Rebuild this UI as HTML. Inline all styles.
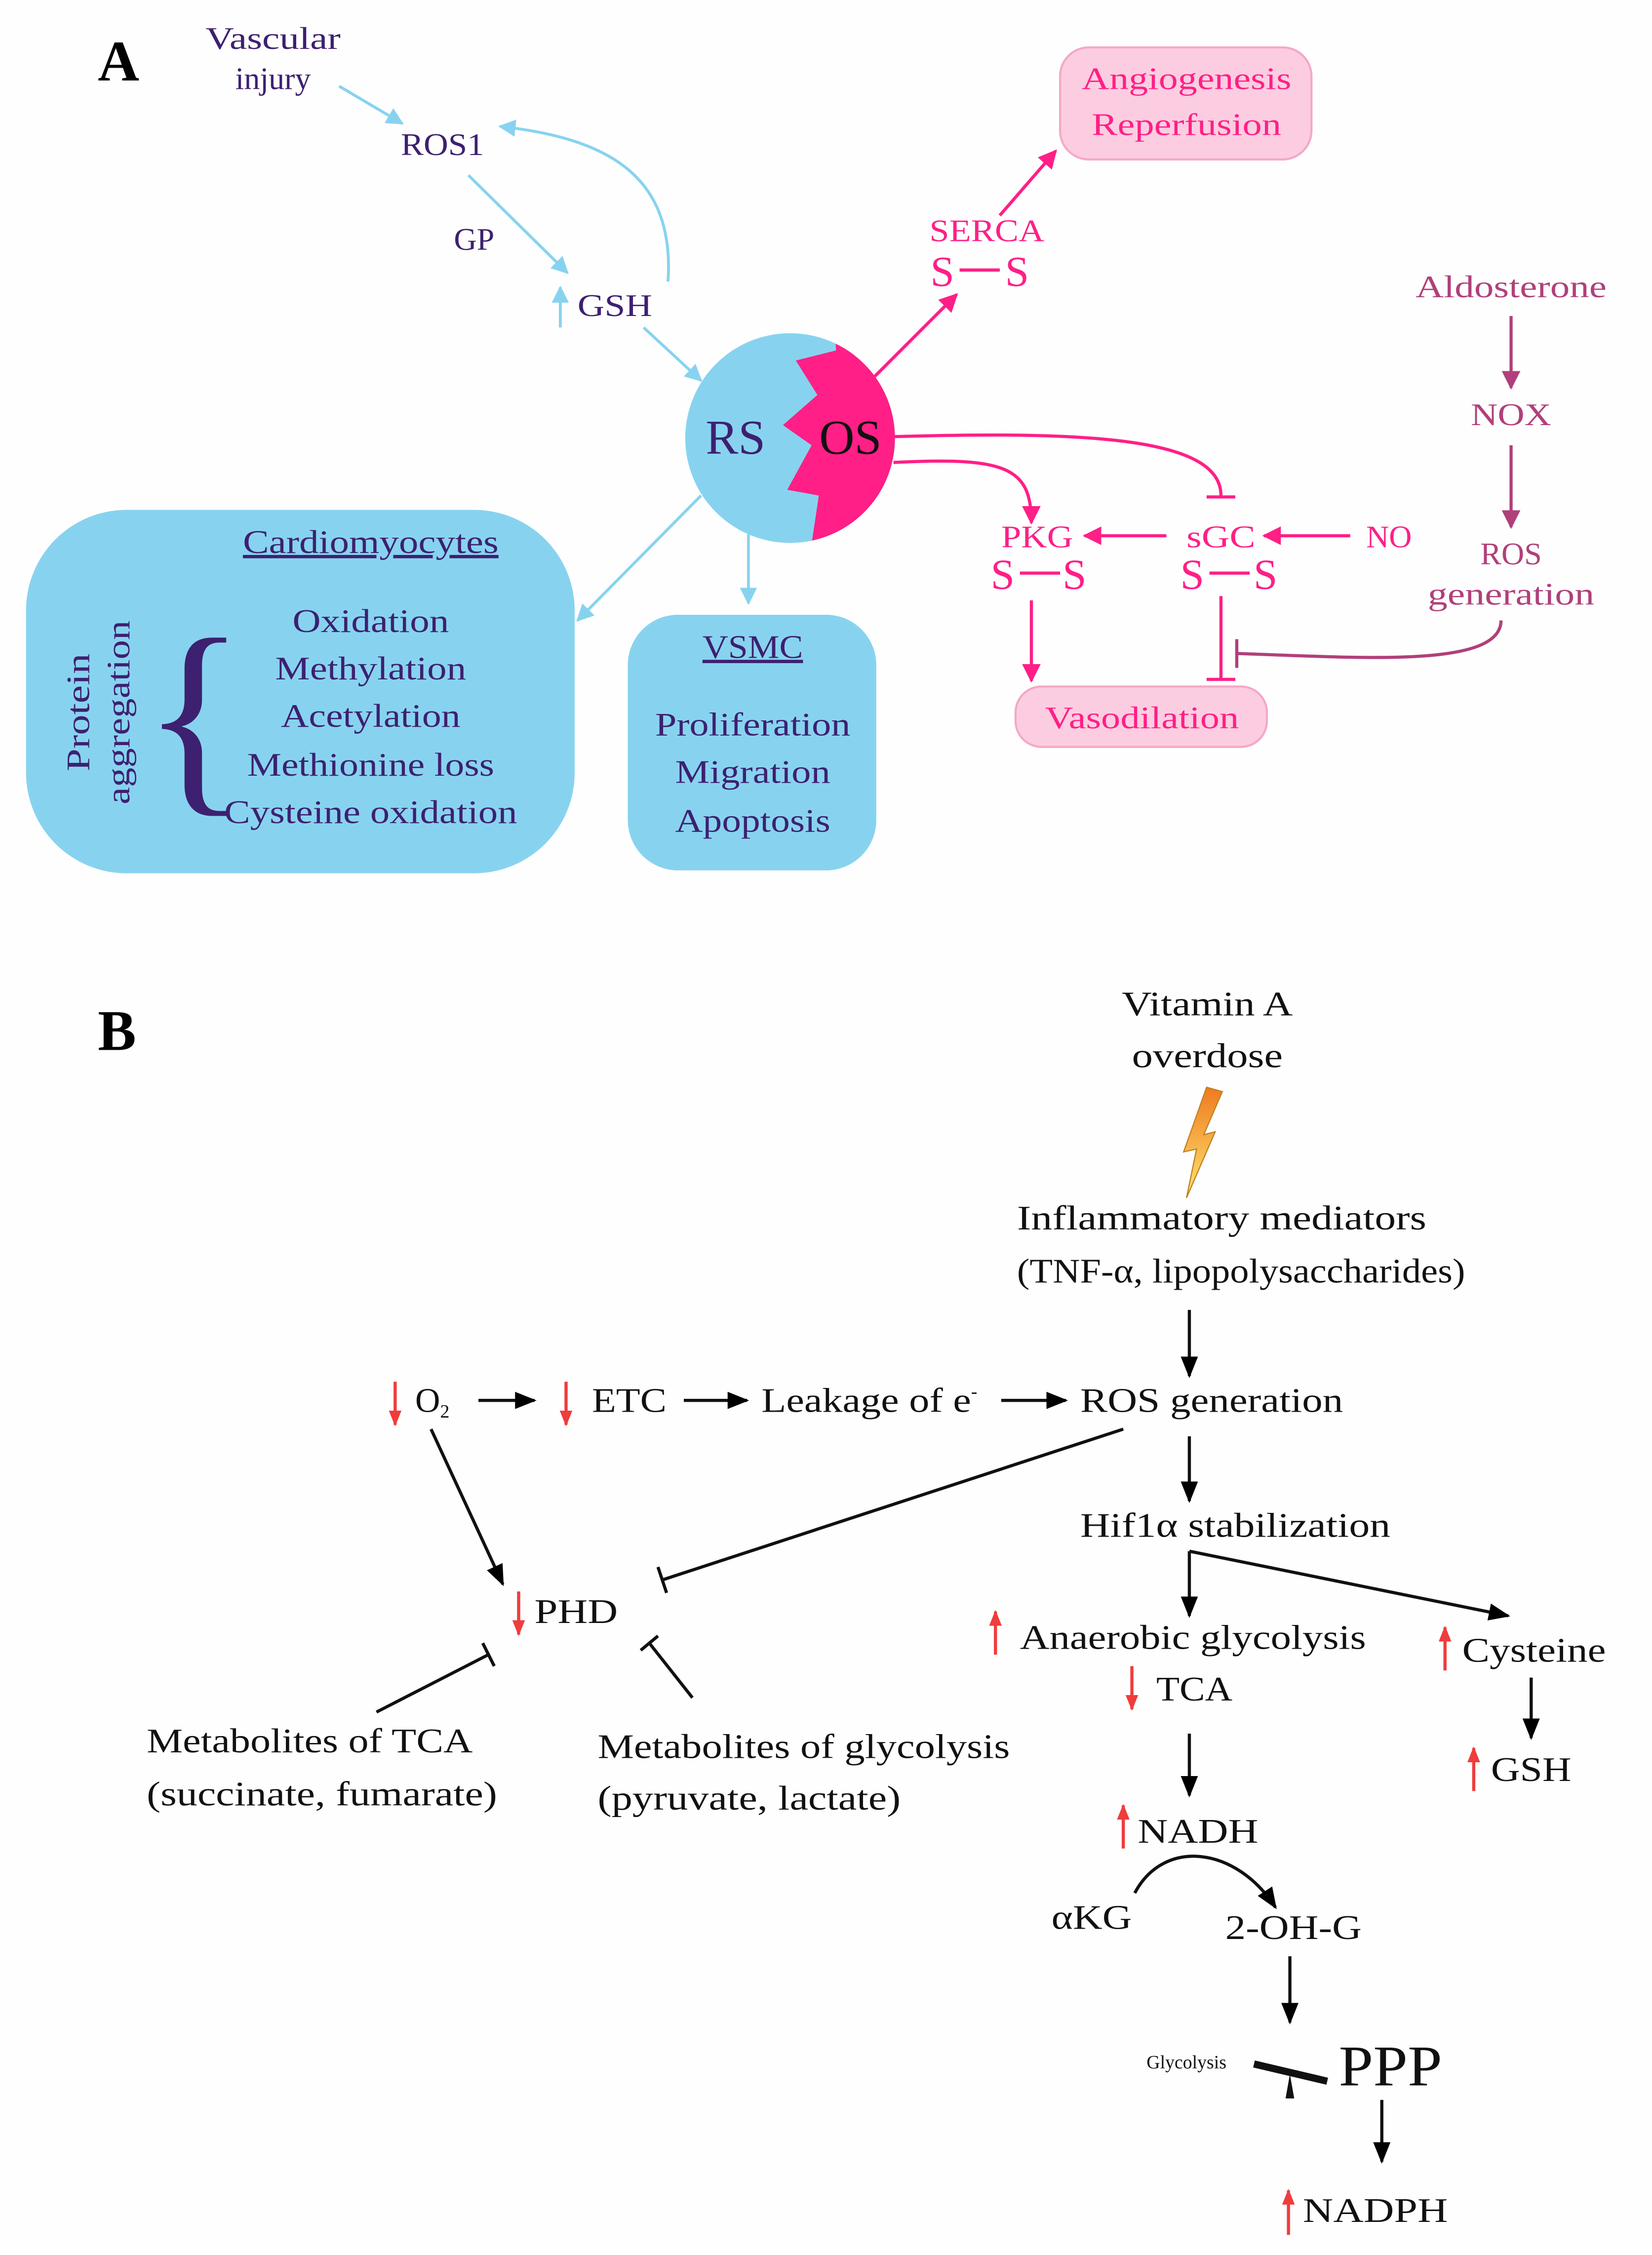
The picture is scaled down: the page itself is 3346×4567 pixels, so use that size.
<!DOCTYPE html>
<html><head><meta charset="utf-8"><style>
html,body{margin:0;padding:0;background:#fefefe;}
svg{display:block;}
text{font-family:"Liberation Serif",serif;}
</style></head><body>
<svg width="3346" height="4567" viewBox="0 0 1150 1570" xmlns="http://www.w3.org/2000/svg">
<defs>
<marker id="ab" viewBox="0 0 10 10" refX="9" refY="5" markerWidth="12" markerHeight="12" markerUnits="userSpaceOnUse" orient="auto"><path d="M0,0 L10,5 L0,10 z" fill="#87d3ef"/></marker>
<marker id="ap" viewBox="0 0 10 10" refX="9" refY="5" markerWidth="13" markerHeight="13" markerUnits="userSpaceOnUse" orient="auto"><path d="M0,0 L10,5 L0,10 z" fill="#ff1f86"/></marker>
<marker id="am" viewBox="0 0 10 10" refX="9" refY="5" markerWidth="13" markerHeight="13" markerUnits="userSpaceOnUse" orient="auto"><path d="M0,0 L10,5 L0,10 z" fill="#b0407a"/></marker>
<marker id="ak" viewBox="0 0 10 10" refX="9" refY="5" markerWidth="15" markerHeight="15" markerUnits="userSpaceOnUse" orient="auto"><path d="M0,1 L10,5 L0,9 z" fill="#000"/></marker>
<marker id="ar" viewBox="0 0 10 10" refX="9" refY="5" markerWidth="11" markerHeight="11" markerUnits="userSpaceOnUse" orient="auto"><path d="M0,1 L10,5 L0,9 z" fill="#f03c3c"/></marker>
<clipPath id="cc"><ellipse cx="550" cy="305" rx="73" ry="73"/></clipPath>
<linearGradient id="lg" x1="0" y1="0" x2="0" y2="1"><stop offset="0" stop-color="#f07a20"/><stop offset="1" stop-color="#fbe870"/></linearGradient>
</defs>

<!-- Panel A -->
<text x="68" y="56" font-size="40" font-weight="bold">A</text>
<g fill="#3d2070" font-size="22" text-anchor="middle">
<text x="190" y="34" textLength="94" lengthAdjust="spacingAndGlyphs">Vascular</text><text x="190" y="62">injury</text>
<text x="308" y="108" textLength="58" lengthAdjust="spacingAndGlyphs">ROS1</text>
<text x="330" y="174">GP</text>
<text x="428" y="220" textLength="52" lengthAdjust="spacingAndGlyphs">GSH</text>
</g>
<g stroke="#87d3ef" stroke-width="2" fill="none">
<line x1="236" y1="60" x2="280" y2="86" marker-end="url(#ab)"/>
<line x1="326" y1="122" x2="395" y2="190" marker-end="url(#ab)"/>
<line x1="390" y1="228" x2="390" y2="200" marker-end="url(#ab)"/>
<path d="M465,196 C470,120 420,96 348,88" marker-end="url(#ab)"/>
<line x1="448" y1="228" x2="488" y2="265" marker-end="url(#ab)"/>
<line x1="488" y1="345" x2="402" y2="432" marker-end="url(#ab)"/>
<line x1="521" y1="372" x2="521" y2="420" marker-end="url(#ab)"/>
</g>
<ellipse cx="550" cy="305" rx="73" ry="73" fill="#87d3ef"/>
<polygon clip-path="url(#cc)" fill="#ff1f86" points="581,225 582,244 554,251 569,275 545,296 565,310 548,341 570,345 564,385 700,385 700,225"/>
<text x="512" y="316" font-size="34" fill="#3d2070" text-anchor="middle">RS</text>
<text x="592" y="316" font-size="34" fill="#111" text-anchor="middle">OS</text>

<g stroke="#ff1f86" stroke-width="2.2" fill="none">
<line x1="609" y1="262" x2="666" y2="205" marker-end="url(#ap)"/>
<line x1="696" y1="150" x2="735" y2="105" marker-end="url(#ap)"/>
<path d="M622,304 C760,300 850,305 850,345"/>
<line x1="840" y1="346" x2="860" y2="346"/>
<path d="M622,322 C700,318 718,325 718,364" marker-end="url(#ap)"/>
<line x1="940" y1="373" x2="880" y2="373" marker-end="url(#ap)"/>
<line x1="812" y1="373" x2="755" y2="373" marker-end="url(#ap)"/>
<line x1="850" y1="415" x2="850" y2="472"/>
<line x1="840" y1="473" x2="860" y2="473"/>
<line x1="718" y1="418" x2="718" y2="474" marker-end="url(#ap)"/>
<line x1="668" y1="188" x2="696" y2="188"/>
<line x1="710" y1="399" x2="738" y2="399"/>
<line x1="842" y1="399" x2="870" y2="399"/>
</g>
<rect x="738" y="33" width="175" height="78" rx="20" fill="#fccde0" stroke="#f5a8c8" stroke-width="1.5"/>
<rect x="707" y="478" width="175" height="42" rx="18" fill="#fccde0" stroke="#f5a8c8" stroke-width="1.5"/>
<g fill="#ff1f86" font-size="22" text-anchor="middle">
<text x="826" y="62" textLength="146" lengthAdjust="spacingAndGlyphs">Angiogenesis</text><text x="826" y="94" textLength="132" lengthAdjust="spacingAndGlyphs">Reperfusion</text>
<text x="687" y="168" textLength="80" lengthAdjust="spacingAndGlyphs">SERCA</text>
<text x="656" y="199" font-size="30">S</text><text x="708" y="199" font-size="30">S</text>
<text x="722" y="381" textLength="50" lengthAdjust="spacingAndGlyphs">PKG</text>
<text x="698" y="410" font-size="30">S</text><text x="748" y="410" font-size="30">S</text>
<text x="850" y="381" textLength="48" lengthAdjust="spacingAndGlyphs">sGC</text>
<text x="830" y="410" font-size="30">S</text><text x="881" y="410" font-size="30">S</text>
<text x="967" y="381">NO</text>
<text x="795" y="507" textLength="135" lengthAdjust="spacingAndGlyphs">Vasodilation</text>
</g>
<g fill="#b0407a" font-size="22" text-anchor="middle">
<text x="1052" y="207" textLength="133" lengthAdjust="spacingAndGlyphs">Aldosterone</text>
<text x="1052" y="296" textLength="56" lengthAdjust="spacingAndGlyphs">NOX</text>
<text x="1052" y="393">ROS</text><text x="1052" y="421" textLength="116" lengthAdjust="spacingAndGlyphs">generation</text>
</g>
<g stroke="#b0407a" stroke-width="2.2" fill="none">
<line x1="1052" y1="220" x2="1052" y2="270" marker-end="url(#am)"/>
<line x1="1052" y1="310" x2="1052" y2="367" marker-end="url(#am)"/>
<path d="M1045,432 C1045,465 950,458 862,455"/>
<line x1="861" y1="445" x2="861" y2="465"/>
</g>

<rect x="18" y="355" width="382" height="253" rx="70" fill="#87d3ef"/>
<rect x="437" y="428" width="173" height="178" rx="35" fill="#87d3ef"/>
<g fill="#3d2070" font-size="23" text-anchor="middle">
<text x="258" y="385" text-decoration="underline" textLength="178" lengthAdjust="spacingAndGlyphs">Cardiomyocytes</text>
<text x="258" y="440" textLength="109" lengthAdjust="spacingAndGlyphs">Oxidation</text>
<text x="258" y="473" textLength="133" lengthAdjust="spacingAndGlyphs">Methylation</text>
<text x="258" y="506" textLength="125" lengthAdjust="spacingAndGlyphs">Acetylation</text>
<text x="258" y="540" textLength="172" lengthAdjust="spacingAndGlyphs">Methionine loss</text>
<text x="258" y="573" textLength="204" lengthAdjust="spacingAndGlyphs">Cysteine oxidation</text>
<text x="524" y="458" text-decoration="underline" textLength="70" lengthAdjust="spacingAndGlyphs">VSMC</text>
<text x="524" y="512" textLength="136" lengthAdjust="spacingAndGlyphs">Proliferation</text>
<text x="524" y="545" textLength="108" lengthAdjust="spacingAndGlyphs">Migration</text>
<text x="524" y="579" textLength="108" lengthAdjust="spacingAndGlyphs">Apoptosis</text>
<text x="135" y="548" font-size="150">{</text>
<text transform="translate(62,496) rotate(-90)" textLength="82" lengthAdjust="spacingAndGlyphs">Protein</text>
<text transform="translate(90,496) rotate(-90)" textLength="128" lengthAdjust="spacingAndGlyphs">aggregation</text>
</g>

<!-- Panel B -->
<text x="68" y="731" font-size="40" font-weight="bold">B</text>
<g font-size="24" fill="#111">
<text x="781" y="707" textLength="119" lengthAdjust="spacingAndGlyphs">Vitamin A</text>
<text x="788" y="743" textLength="105" lengthAdjust="spacingAndGlyphs">overdose</text>
<text x="708" y="856" textLength="285" lengthAdjust="spacingAndGlyphs">Inflammatory mediators</text>
<text x="708" y="893" textLength="312" lengthAdjust="spacingAndGlyphs">(TNF-α, lipopolysaccharides)</text>
<text x="289" y="983">O<tspan font-size="13" dy="4">2</tspan></text>
<text x="412" y="983" textLength="52" lengthAdjust="spacingAndGlyphs">ETC</text>
<text x="530" y="983"><tspan textLength="146" lengthAdjust="spacingAndGlyphs">Leakage of e</tspan><tspan font-size="13" dy="-10">-</tspan></text>
<text x="752" y="983" textLength="183" lengthAdjust="spacingAndGlyphs">ROS generation</text>
<text x="752" y="1070" textLength="216" lengthAdjust="spacingAndGlyphs">Hif1α stabilization</text>
<text x="372" y="1130" textLength="58" lengthAdjust="spacingAndGlyphs">PHD</text>
<text x="102" y="1220" textLength="227" lengthAdjust="spacingAndGlyphs">Metabolites of TCA</text>
<text x="102" y="1257" textLength="244" lengthAdjust="spacingAndGlyphs">(succinate, fumarate)</text>
<text x="416" y="1224" textLength="287" lengthAdjust="spacingAndGlyphs">Metabolites of glycolysis</text>
<text x="416" y="1260" textLength="211" lengthAdjust="spacingAndGlyphs">(pyruvate, lactate)</text>
<text x="710" y="1148" textLength="241" lengthAdjust="spacingAndGlyphs">Anaerobic glycolysis</text>
<text x="805" y="1184" textLength="53" lengthAdjust="spacingAndGlyphs">TCA</text>
<text x="1018" y="1157" textLength="100" lengthAdjust="spacingAndGlyphs">Cysteine</text>
<text x="1038" y="1240" textLength="56" lengthAdjust="spacingAndGlyphs">GSH</text>
<text x="792" y="1283" textLength="84" lengthAdjust="spacingAndGlyphs">NADH</text>
<text x="732" y="1343" textLength="56" lengthAdjust="spacingAndGlyphs">αKG</text>
<text x="853" y="1350" textLength="95" lengthAdjust="spacingAndGlyphs">2-OH-G</text>
<text x="826" y="1440" font-size="13" text-anchor="middle">Glycolysis</text>
<text x="968" y="1452" font-size="40" text-anchor="middle" textLength="72" lengthAdjust="spacingAndGlyphs">PPP</text>
<text x="907" y="1547" textLength="101" lengthAdjust="spacingAndGlyphs">NADPH</text>
</g>
<polygon points="840,757 851,760 838,790 846,788 826,834 833,800 824,802" fill="url(#lg)" stroke="#c08020" stroke-width="0.8"/>
<g stroke="#111" stroke-width="2.2" fill="none">
<line x1="828" y1="912" x2="828" y2="958" marker-end="url(#ak)"/>
<line x1="333" y1="975" x2="372" y2="975" marker-end="url(#ak)"/>
<line x1="476" y1="975" x2="520" y2="975" marker-end="url(#ak)"/>
<line x1="697" y1="975" x2="742" y2="975" marker-end="url(#ak)"/>
<line x1="828" y1="1000" x2="828" y2="1045" marker-end="url(#ak)"/>
<line x1="828" y1="1080" x2="828" y2="1125" marker-end="url(#ak)"/>
<line x1="828" y1="1080" x2="1050" y2="1125" marker-end="url(#ak)"/>
<line x1="782" y1="995" x2="461" y2="1100"/>
<line x1="458" y1="1091" x2="464" y2="1109"/>
<line x1="300" y1="995" x2="350" y2="1103" marker-end="url(#ak)"/>
<line x1="262" y1="1192" x2="340" y2="1152"/>
<line x1="336" y1="1144" x2="344" y2="1160"/>
<line x1="482" y1="1182" x2="452" y2="1144"/>
<line x1="446" y1="1149" x2="458" y2="1139"/>
<line x1="1066" y1="1168" x2="1066" y2="1210" marker-end="url(#ak)"/>
<line x1="828" y1="1207" x2="828" y2="1250" marker-end="url(#ak)"/>
<path d="M790,1318 C810,1280 860,1285 888,1328" marker-end="url(#ak)"/>
<line x1="898" y1="1362" x2="898" y2="1408" marker-end="url(#ak)"/>
<line x1="962" y1="1462" x2="962" y2="1505" marker-end="url(#ak)"/>
<line x1="873" y1="1437" x2="924" y2="1449" stroke-width="5"/>
</g>
<polygon points="898,1444 895,1461 901,1461" fill="#111"/>
<g stroke="#f03c3c" stroke-width="2.2">
<line x1="275" y1="962" x2="275" y2="992" marker-end="url(#ar)"/>
<line x1="394" y1="962" x2="394" y2="992" marker-end="url(#ar)"/>
<line x1="361" y1="1108" x2="361" y2="1138" marker-end="url(#ar)"/>
<line x1="693" y1="1152" x2="693" y2="1122" marker-end="url(#ar)"/>
<line x1="788" y1="1160" x2="788" y2="1190" marker-end="url(#ar)"/>
<line x1="1006" y1="1163" x2="1006" y2="1133" marker-end="url(#ar)"/>
<line x1="1026" y1="1247" x2="1026" y2="1217" marker-end="url(#ar)"/>
<line x1="782" y1="1287" x2="782" y2="1257" marker-end="url(#ar)"/>
<line x1="897" y1="1556" x2="897" y2="1525" marker-end="url(#ar)"/>
</g>
</svg>
</body></html>
